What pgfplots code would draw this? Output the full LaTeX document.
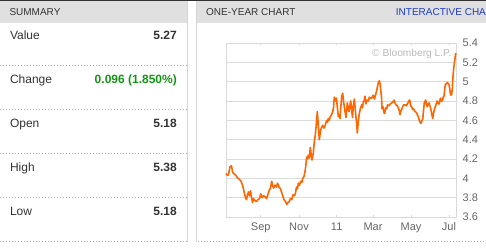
\documentclass[border=0pt]{standalone}
\usepackage{fontspec}
\setmainfont{Liberation Sans}
\usepackage{pgfplots}
\pgfplotsset{compat=1.18}
\definecolor{hdr}{RGB}{224,224,224}
\definecolor{bord}{RGB}{212,212,212}
\definecolor{dots}{RGB}{170,170,170}
\definecolor{txt}{RGB}{51,51,51}
\definecolor{lbl}{RGB}{102,102,102}
\definecolor{grn}{RGB}{20,150,20}
\definecolor{blu}{RGB}{30,60,200}
\definecolor{orng}{RGB}{255,102,0}
\definecolor{gridc}{RGB}{218,218,218}
\definecolor{wm}{RGB}{185,185,185}
\begin{document}
\begin{tikzpicture}[x=1pt,y=1pt]
\useasboundingbox (0,0) rectangle (486,247);
\begin{scope}
\clip (0,0) rectangle (486,247);
% header bars
\fill[hdr] (0,224.5) rectangle (187,245.5);
\fill[hdr] (197,224.5) rectangle (486,245.5);
\fill[txt] (0,245.5) rectangle (486,247);
% vertical panel borders
\draw[bord, line width=0.8pt] (187.5,5.5) -- (187.5,245.5);
\draw[bord, line width=0.8pt] (196.5,5.5) -- (196.5,245.5);
% dotted separators
\foreach \yy in {65.7,109.3,153.7,197.7,241.5} {
  \draw[dots, line width=0.8pt, dash pattern=on 1pt off 2pt] (0,247-\yy) -- (187,247-\yy);
}
\draw[dots, line width=0.8pt, dash pattern=on 1pt off 2pt] (198,247-241.5) -- (486,247-241.5);
% header texts
\node[anchor=base west, inner sep=0pt, text=txt, font=\fontsize{10}{12}\selectfont] at (9.3,247-15.7) {SUMMARY};
\node[anchor=base west, inner sep=0pt, text=txt, font=\fontsize{10}{12}\selectfont] at (206,247-15.7) {ONE-YEAR CHART};
\node[anchor=base west, inner sep=0pt, text=blu, font=\fontsize{10}{12}\selectfont] at (395.7,247-15.7) {INTERACTIVE CHART};
% summary rows
\foreach \lab/\val/\yy in {Value/5.27/39, Open/5.18/127, High/5.38/171, Low/5.18/215} {
  \node[anchor=base west, inner sep=0pt, text=txt, font=\fontsize{12}{14}\selectfont] at (9.8,247-\yy) {\lab};
  \node[anchor=base east, inner sep=0pt, text=txt, font=\fontsize{12}{14}\selectfont\bfseries] at (177,247-\yy) {\val};
}
\node[anchor=base west, inner sep=0pt, text=txt, font=\fontsize{12}{14}\selectfont] at (9.8,247-83) {Change};
\node[anchor=base east, inner sep=0pt, text=grn, font=\fontsize{12}{14}\selectfont\bfseries] at (177,247-83) {0.096 (1.850\%)};
\end{scope}
\begin{axis}[
  at={(226pt,30pt)}, anchor=south west,
  width=230pt, height=174pt, scale only axis,
  xmin=226, xmax=456, ymin=3.6, ymax=5.4,
  xtick={260.7,299,336.7,373,411,449},
  xticklabels={Sep,Nov,11,Mar,May,Jul},
  ytick={3.6,3.8,4,4.2,4.4,4.6,4.8,5,5.2,5.4},
  yticklabel pos=right,
  /pgf/number format/assume math mode=true,
  ymajorgrids, grid style={gridc, line width=0.8pt},
  axis line style={gridc, line width=0.8pt},
  major tick length=2pt,
  xtick style={draw=gridc, line width=0.8pt},
  ytick style={draw=none},
  tick align=inside,
  x tick label style={font=\fontsize{11}{13}\selectfont, text=lbl, anchor=north, inner sep=0pt, yshift=-5.3pt},
  y tick label style={font=\fontsize{11}{13}\selectfont, text=lbl, anchor=west, inner sep=0pt, xshift=6.5pt},
  clip=false,
]
\addplot[orng, line width=1.6pt, line join=round] coordinates {
(226,4.05) (227.5,4.03) (228.5,4.04) (230,4.12) (231.5,4.13) (232.5,4.07) (233.5,4.05) (235,4.04)
(236.5,4.02) (238,4.00) (239.5,3.99) (241,3.97) (242.5,3.93) (243.5,3.89) (244.5,3.84) (245.5,3.80)
(246.5,3.78) (247.5,3.83) (248.5,3.86) (249.5,3.82) (250.5,3.87) (251.5,3.80) (252.5,3.75) (253.5,3.79)
(255,3.77) (256.5,3.76) (258,3.78) (259.5,3.79) (260.7,3.84) (262,3.80) (263.5,3.82) (265,3.81)
(266.5,3.79) (267.5,3.82) (269,3.87) (270.5,3.90) (271.7,3.97) (272.7,3.92) (273.7,3.90) (275,3.93)
(276.5,3.91) (277.5,3.95) (279,3.91) (280.5,3.89) (281.7,3.85) (283,3.81) (284,3.78) (285.5,3.76)
(286.7,3.73) (288,3.75) (289.3,3.76) (290.5,3.79) (291.7,3.78) (293,3.83) (294.5,3.82) (295.5,3.85)
(296.5,3.91) (297.5,3.89) (298.3,3.95) (299.5,3.93) (300.7,3.97) (302,3.96) (302.7,4.00) (304,4.02)
(305,4.07) (306,4.15) (306.7,4.22) (307.5,4.20) (308.3,4.24) (309.3,4.21) (310.3,4.32) (311,4.26)
(312,4.19) (313.3,4.26) (314.3,4.38) (315.3,4.45) (316.2,4.55) (317.3,4.69) (318.3,4.55) (319.3,4.40)
(320.2,4.47) (320.7,4.50) (321.7,4.53) (322.7,4.55) (324,4.52) (325,4.54) (326,4.58) (326.7,4.60)
(327.5,4.58) (328.3,4.62) (329.3,4.60) (330.3,4.64) (331.7,4.66) (332.7,4.69) (333.5,4.73) (334.3,4.84)
(335,4.82) (335.7,4.80) (336.5,4.83) (337.3,4.74) (338.3,4.64) (339.3,4.66) (340,4.62) (341,4.76)
(341.7,4.85) (342.7,4.88) (343.5,4.80) (344.3,4.74) (345.2,4.68) (346,4.63) (347.3,4.78) (348.2,4.72)
(349,4.69) (350,4.76) (350.7,4.80) (351.7,4.70) (352.5,4.63) (353.3,4.75) (354.3,4.82) (355.2,4.72)
(356,4.63) (356.7,4.56) (357.3,4.47) (358.2,4.58) (359.3,4.67) (360.3,4.72) (361.7,4.76) (362.5,4.73)
(363.3,4.79) (364.3,4.81) (365,4.85) (366,4.77) (367.3,4.81) (368.3,4.80) (369.3,4.84) (370.5,4.83)
(371.7,4.83) (372.5,4.85) (373.3,4.86) (374.3,4.82) (375,4.84) (376,4.88) (376.7,4.91) (377.5,4.95)
(378.3,4.99) (379.3,5.01) (380,4.98) (380.7,4.92) (381.5,4.84) (382,4.72) (383,4.74) (384,4.68)
(384.7,4.67) (385.7,4.73) (386.7,4.72) (387.5,4.76) (389,4.75) (390.3,4.77) (391.7,4.78) (393,4.79)
(394,4.81) (395,4.78) (396,4.76) (397.3,4.75) (398.3,4.73) (399.3,4.70) (400,4.66) (401,4.70)
(402.3,4.73) (403.5,4.76) (405,4.76) (406.3,4.75) (407.3,4.77) (408.5,4.79) (409.3,4.81) (410,4.80)
(410.7,4.75) (411.7,4.74) (412.7,4.71) (413.5,4.72) (415,4.69) (416.5,4.68) (417.3,4.66) (418.5,4.63)
(419.3,4.60) (420.2,4.58) (421,4.57) (422,4.60) (422.7,4.61) (423.5,4.70) (424.3,4.78) (425.2,4.80)
(425.7,4.81) (426.5,4.76) (427.3,4.74) (428.2,4.77) (429,4.78) (430,4.75) (430.7,4.72) (431.7,4.67)
(432.7,4.62) (433.5,4.67) (434.3,4.71) (435.2,4.74) (436,4.76) (437,4.80) (437.7,4.79) (438.5,4.77)
(439.3,4.77) (440.2,4.82) (440.7,4.83) (441.5,4.80) (442.3,4.80) (443.2,4.84) (444,4.85) (444.7,4.92)
(445.3,4.97) (446.3,4.98) (447.3,4.99) (448.2,4.98) (449,4.97) (449.8,4.92) (450.3,4.88) (451,4.86)
(451.7,4.87) (452.3,4.93) (452.9,5.04) (453.5,5.12) (454.2,5.18) (455,5.24) (455.6,5.29) (456,5.28)
};
\node[anchor=base east, inner sep=0pt, text=wm, font=\fontsize{10.2}{12}\selectfont] at (axis cs:451.7,5.265) {\textcopyright\ Bloomberg L.P.};
\end{axis}
\end{tikzpicture}
\end{document}
